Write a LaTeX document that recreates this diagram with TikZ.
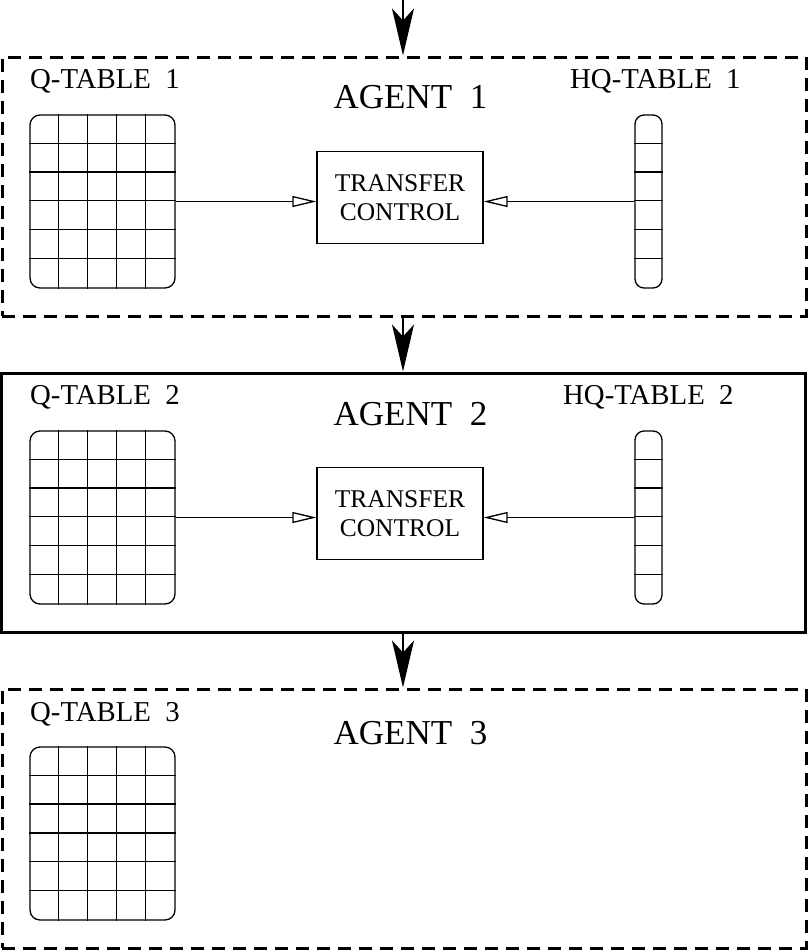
\documentclass[tikz,border=0pt]{standalone}
\usepackage{fontspec}
\setmainfont{Liberation Serif}
\usetikzlibrary{arrows.meta}
\tikzset{
  agentbox/.style={draw, line width=3pt, minimum width=804pt, minimum height=259pt, inner sep=0pt},
  dashbox/.style={dash pattern=on 13pt off 8pt},
  qtab/.style={draw, line width=1.3pt, rounded corners=10pt, minimum width=145pt, minimum height=173pt, inner sep=0pt},
  hqtab/.style={draw, line width=1.3pt, rounded corners=9pt, minimum width=27pt, minimum height=173pt, inner sep=0pt},
  tcbox/.style={draw, line width=1.3pt, minimum width=166pt, minimum height=92pt, inner sep=0pt, align=center, font=\fontsize{25.5}{29}\selectfont},
  gridline/.style={line width=1.3pt},
  bigarrow/.style={-{Stealth[length=47pt,width=22pt,inset=12pt]}, line width=2pt},
  openarrow/.style={-{Triangle[open,length=24pt,width=11pt]}, line width=1.3pt},
  lbl/.style={anchor=base west, inner sep=0pt, font=\fontsize{28.8}{30}\selectfont},
  agentlbl/.style={anchor=base, inner sep=0pt, font=\fontsize{35}{40}\selectfont},
}
\newcommand{\qgrid}[1]{%
  \foreach \i in {1,...,4} {\draw[gridline] ([xshift=\i*29pt]#1.north west) -- ([xshift=\i*29pt]#1.south west);}
  \foreach \j in {1,...,5} {\draw[gridline] ([yshift=-\j*28.83pt]#1.north west) -- ([yshift=-\j*28.83pt]#1.north east);}
}
\newcommand{\hqgrid}[1]{%
  \foreach \j in {1,...,5} {\draw[gridline] ([yshift=-\j*28.83pt]#1.north west) -- ([yshift=-\j*28.83pt]#1.north east);}
}
\begin{document}
\begin{tikzpicture}[x=1pt,y=-1pt]
\useasboundingbox (0,0) rectangle (808,951);
% agent boxes
\node[agentbox, dashbox] (a1) at (404,186.5) {};
\node[agentbox] (a2) at (403.5,502.5) {};
\node[agentbox, dashbox] (a3) at (404,818.5) {};
\coordinate (top) at (403,0);
\draw[bigarrow] (top) -- (a1.north -| top);
\draw[bigarrow] (a1.south -| top) -- (a2.north -| top);
\draw[bigarrow] (a2.south -| top) -- (a3.north -| top);
% agent 1
\node[lbl] (ql1) at (30,88) {Q-TABLE~~1};
\node[lbl] (hl1) at (570,88) {HQ-TABLE~~1};
\node[agentlbl] (al1) at (410.5,108) {AGENT~~1};
\node[qtab] (q1) at (102.5,201.5) {};
\qgrid{q1}
\node[hqtab] (h1) at (648.5,201.5) {};
\hqgrid{h1}
\node[tcbox] (t1) at (400,197.5) {TRANSFER\\CONTROL};
\draw[openarrow] (q1.east) -- (q1.east -| t1.west);
\draw[openarrow] (h1.west) -- (h1.west -| t1.east);
% agent 2
\node[lbl] (ql2) at (30,404) {Q-TABLE~~2};
\node[lbl] (hl2) at (563,404) {HQ-TABLE~~2};
\node[agentlbl] (al2) at (410.5,425) {AGENT~~2};
\node[qtab] (q2) at (102.5,517.5) {};
\qgrid{q2}
\node[hqtab] (h2) at (648.5,517.5) {};
\hqgrid{h2}
\node[tcbox] (t2) at (400,513.5) {TRANSFER\\CONTROL};
\draw[openarrow] (q2.east) -- (q2.east -| t2.west);
\draw[openarrow] (h2.west) -- (h2.west -| t2.east);
% agent 3
\node[lbl] (ql3) at (30,721) {Q-TABLE~~3};
\node[agentlbl] (al3) at (410.5,744) {AGENT~~3};
\node[qtab] (q3) at (102.5,833.5) {};
\qgrid{q3}
\end{tikzpicture}
\end{document}
